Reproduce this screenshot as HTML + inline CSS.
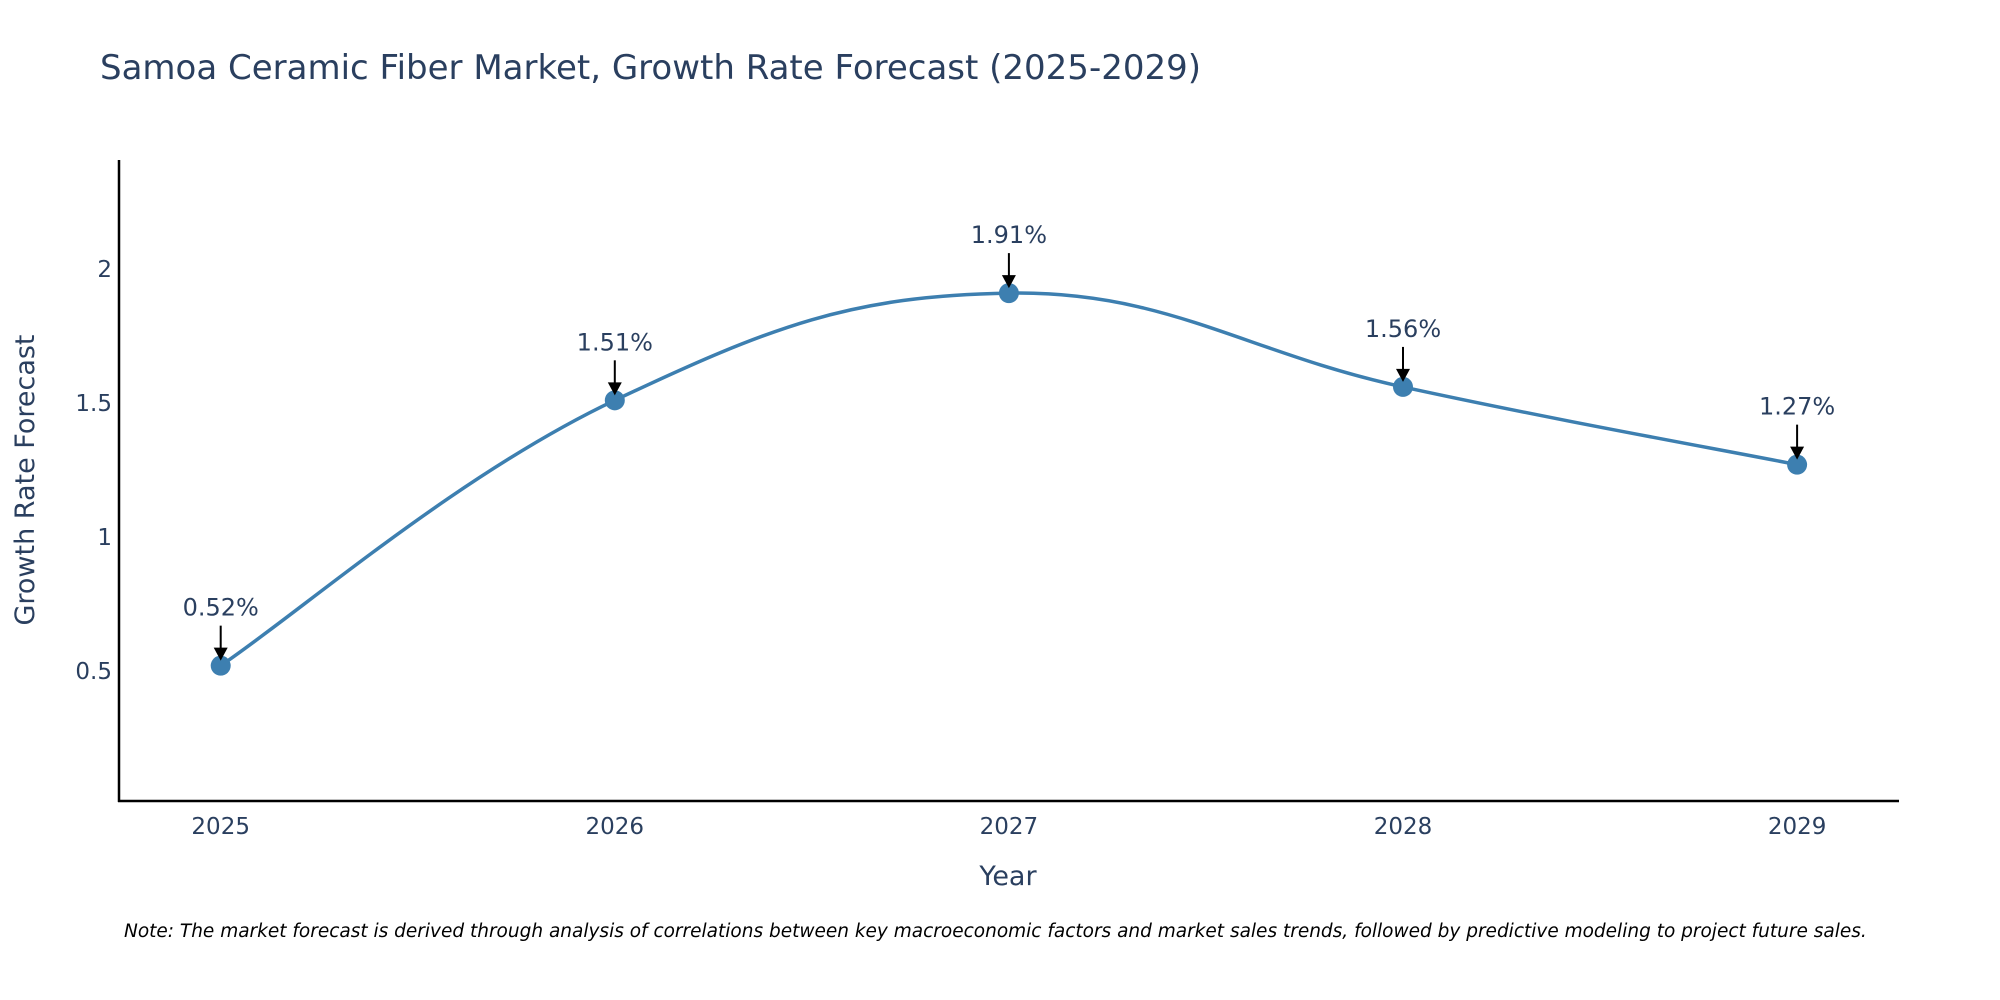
<!DOCTYPE html>
<html><head><meta charset="utf-8"><style>
body{margin:0;background:#fff;}
svg{display:block;font-family:"DejaVu Sans","Liberation Sans",sans-serif;}
</style></head><body>
<svg width="2000" height="1000" viewBox="0 0 2000 1000">
<text x="100" y="79" font-size="34" fill="#2a3f5f">Samoa Ceramic Fiber Market, Growth Rate Forecast (2025-2029)</text>
<g id="yticks"></g><g id="xticks"></g>
<line x1="119" y1="160" x2="119" y2="802" stroke="#000" stroke-width="2.5"/>
<line x1="118" y1="801" x2="1899" y2="801" stroke="#000" stroke-width="2.5"/>
<path id="line" fill="none" stroke="#3d7fb0" stroke-width="3.5"/>
<g id="pts"></g><g id="ann"></g>
<text x="1008" y="885" font-size="27" fill="#2a3f5f" text-anchor="middle">Year</text>
<text transform="translate(34,480) rotate(-90)" font-size="27" fill="#2a3f5f" text-anchor="middle">Growth Rate Forecast</text>
<text x="124" y="937" font-size="18.5" font-style="italic" fill="#000">Note: The market forecast is derived through analysis of correlations between key macroeconomic factors and market sales trends, followed by predictive modeling to project future sales.</text>
</svg>
<script>
const years=[2025,2026,2027,2028,2029];
const values=[0.52,1.51,1.91,1.56,1.27];
const labels=["0.52%","1.51%","1.91%","1.56%","1.27%"];
const yTicks=[0.5,1,1.5,2];
const NS="http://www.w3.org/2000/svg";
const xs=y=>220.7+(y-2025)*394.1;
const ys=v=>671-(v-0.5)*268;
function mk(t,a,p){const e=document.createElementNS(NS,t);for(const k in a)e.setAttribute(k,a[k]);p.appendChild(e);return e;}
const yt=document.getElementById('yticks');
yTicks.forEach(v=>{const t=mk('text',{x:112,y:ys(v)+8,'font-size':23,fill:'#2a3f5f','text-anchor':'end'},yt);t.textContent=v;

});
const xt=document.getElementById('xticks');
years.forEach(y=>{const t=mk('text',{x:xs(y),y:834,'font-size':23,fill:'#2a3f5f','text-anchor':'middle'},xt);t.textContent=y;

});
const P=years.map((y,i)=>[xs(y),ys(values[i])]);
let d=`M${P[0][0]},${P[0][1]}`;const k=0.2;
for(let i=0;i<P.length-1;i++){const p0=P[Math.max(i-1,0)],p1=P[i],p2=P[i+1],p3=P[Math.min(i+2,P.length-1)];
const c1=[p1[0]+(p2[0]-p0[0])*k,p1[1]+(p2[1]-p0[1])*k],c2=[p2[0]-(p3[0]-p1[0])*k,p2[1]-(p3[1]-p1[1])*k];
d+=` C${c1[0]},${c1[1]} ${c2[0]},${c2[1]} ${p2[0]},${p2[1]}`;}
document.getElementById('line').setAttribute('d',d);
const pg=document.getElementById('pts'),ag=document.getElementById('ann');
P.forEach((p,i)=>{const c=mk('circle',{cx:p[0],cy:p[1],r:10,fill:'#3d7fb0'},pg);


const l=mk('line',{x1:p[0],y1:p[1]-40,x2:p[0],y2:p[1]-14,stroke:'#000','stroke-width':2},ag);


const h=mk('polygon',{points:`${p[0]-7},${p[1]-18} ${p[0]+7},${p[1]-18} ${p[0]},${p[1]-5}`,fill:'#000'},ag);


const t=mk('text',{x:p[0],y:p[1]-50,'font-size':24,fill:'#2a3f5f','text-anchor':'middle'},ag);t.textContent=labels[i];

});
</script>
</body></html>
